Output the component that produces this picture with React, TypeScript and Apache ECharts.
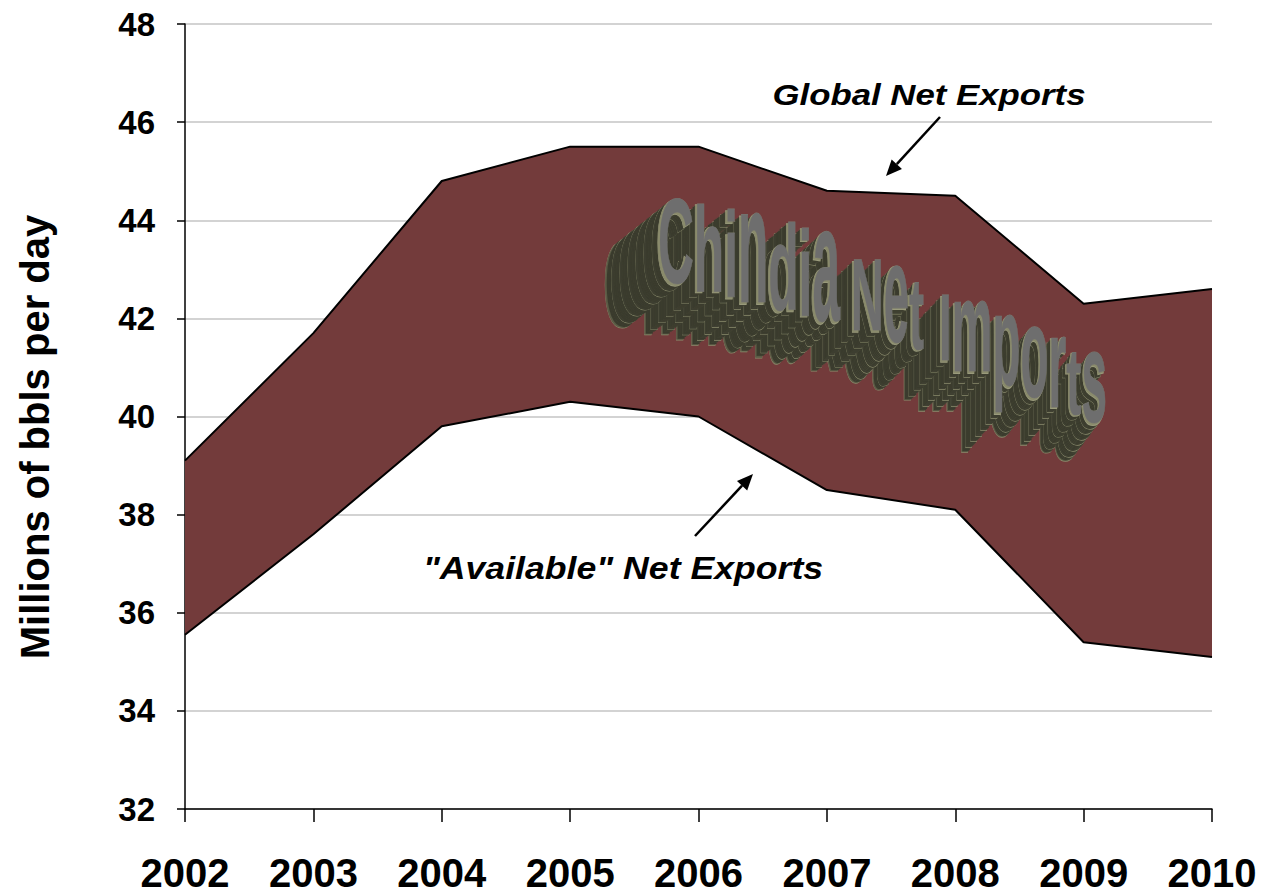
import React, { useEffect, useRef } from "react";
import * as echarts from "echarts";

// ---------- data ----------
const years = ["2002", "2003", "2004", "2005", "2006", "2007", "2008", "2009", "2010"];
const globalNetExports = [39.1, 41.7, 44.8, 45.5, 45.5, 44.6, 44.5, 42.3, 42.6];
const availableNetExports = [35.55, 37.6, 39.8, 40.3, 40.0, 38.5, 38.1, 35.4, 35.1];
const yMin = 32;
const yMax = 48;
const yStep = 2;
const yAxisTitle = "Millions of bbls per day";
const globalLabel = "Global Net Exports";
const availableLabel = "\"Available\" Net Exports";
const wordArtWords = ["Chindia", "Net", "Imports"];

// ---------- styling ----------
const BAND = "#733b3b";
const FONT = '"Liberation Sans", Arial, Helvetica, sans-serif';

// word-art layout (decoration placement)
const waLayout = [
  { x0: 658, x1: 840, size: 120 },
  { x0: 851, x1: 924, size: 102 },
  { x0: 939, x1: 1107, size: 94 },
];
const waBaseline = [
  [658, 279],
  [871, 332],
  [941, 359],
  [1107, 428],
];

function baseY(x: number): number {
  const b = waBaseline;
  if (x <= b[0][0]) {
    const s = (b[1][1] - b[0][1]) / (b[1][0] - b[0][0]);
    return b[0][1] + s * (x - b[0][0]);
  }
  for (let i = 0; i < b.length - 1; i++) {
    if (x <= b[i + 1][0]) {
      const s = (b[i + 1][1] - b[i][1]) / (b[i + 1][0] - b[i][0]);
      return b[i][1] + s * (x - b[i][0]);
    }
  }
  const n = b.length - 1;
  const s = (b[n][1] - b[n - 1][1]) / (b[n][0] - b[n - 1][0]);
  return b[n][1] + s * (x - b[n][0]);
}

function buildWordArt(): any[] {
  const canvas = document.createElement("canvas");
  const ctx = canvas.getContext("2d")!;
  type L = { ch: string; x: number; y: number; sx: number; sy: number; font: string; oy: number; dx: number; dy: number };
  const letters: L[] = [];
  wordArtWords.forEach((word, wi) => {
    const lay = waLayout[wi];
    const font = `bold ${lay.size}px ${FONT}`;
    ctx.font = font;
    const chars = [...word];
    const widths = chars.map((c) => ctx.measureText(c).width);
    const total = widths.reduce((a, b) => a + b, 0);
    const sx = (lay.x1 - lay.x0) / total;
    let cx = lay.x0;
    chars.forEach((ch, i) => {
      const w = widths[i] * sx;
      const mid = cx + w / 2;
      const by = baseY(mid);
      const short = /[acemnoprsuvwxz]/.test(ch);
      const t = (mid - 658) / (1107 - 658);
      letters.push({
        ch,
        x: cx,
        y: by - 0.35 * lay.size,
        sx,
        sy: short ? 1.38 : 1.0,
        font,
        oy: 0.35 * lay.size,
        dx: -56 + 28 * t,
        dy: 44 - 6 * t,
      });
      cx += w;
    });
  });
  const els: any[] = [];
  const mk = (l: L, ox: number, oy: number, style: any) => ({
    type: "text",
    x: l.x + ox,
    y: l.y + oy,
    scaleX: l.sx,
    scaleY: l.sy,
    originX: 0,
    originY: l.oy,
    silent: true,
    z: 50,
    style: {
      text: l.ch,
      font: l.font,
      align: "left",
      textAlign: "left",
      verticalAlign: "middle",
      textVerticalAlign: "middle",
      ...style,
    },
  });
  const N = 34;
  letters.forEach((l) => {
    els.push(mk(l, l.dx, l.dy, { fill: "#5a5b45", stroke: "#8a8b6c", lineWidth: 1.2 }));
  });
  for (let k = N - 1; k >= 1; k--) {
    const t = k / N;
    const edge = k % 5 === 0;
    letters.forEach((l) => {
      els.push(
        mk(l, l.dx * t, l.dy * t, edge
          ? { fill: "#3d3e30", stroke: "#8a8b6c", lineWidth: 1 }
          : { fill: "#3a3b2d", stroke: "#4a4b3a", lineWidth: 0.5 })
      );
    });
  }
  letters.forEach((l) => {
    els.push(mk(l, l.dx * 0.04, l.dy * 0.04, { fill: "#8a8b6c", stroke: "#9a9b7c", lineWidth: 1.5 }));
  });
  letters.forEach((l) => {
    els.push(mk(l, 0, 0, { fill: "#6e6e6e", stroke: "#7a7a70", lineWidth: 0.8 }));
  });
  return els;
}

function arrow(x1: number, y1: number, x2: number, y2: number): any[] {
  const ang = Math.atan2(y2 - y1, x2 - x1);
  const Lh = 16;
  const W = 7;
  const bx = x2 - Lh * Math.cos(ang);
  const by = y2 - Lh * Math.sin(ang);
  const px = -Math.sin(ang) * W;
  const py = Math.cos(ang) * W;
  return [
    { type: "line", z: 60, silent: true, shape: { x1, y1, x2: bx, y2: by }, style: { stroke: "#000", lineWidth: 2.5 } },
    {
      type: "polygon",
      z: 60,
      silent: true,
      shape: { points: [[x2, y2], [bx + px, by + py], [bx - px, by - py]] },
      style: { fill: "#000" },
    },
  ];
}

export default function App() {
  const ref = useRef<HTMLDivElement>(null);
  useEffect(() => {
    if (!ref.current) return;
    const chart = echarts.init(ref.current, undefined, { renderer: "svg" });
    const bandWidth = globalNetExports.map((v, i) => +(v - availableNetExports[i]).toFixed(3));
    const option: any = {
      animation: false,
      backgroundColor: "#ffffff",
      grid: { left: 185, right: 58, top: 24, bottom: 86, containLabel: false },
      xAxis: {
        type: "category",
        data: years,
        boundaryGap: false,
        axisLine: { show: true, lineStyle: { color: "#000", width: 1.5 } },
        axisTick: { show: true, length: 13, lineStyle: { color: "#000", width: 1.5 } },
        axisLabel: {
          color: "#000",
          fontFamily: FONT,
          fontWeight: "bold",
          fontSize: 40,
          margin: 44,
        },
        splitLine: { show: false },
      },
      yAxis: {
        type: "value",
        min: yMin,
        max: yMax,
        interval: yStep,
        axisLine: { show: true, lineStyle: { color: "#000", width: 1.5 } },
        axisTick: { show: true, length: 8, lineStyle: { color: "#000", width: 1.5 } },
        axisLabel: {
          color: "#000",
          fontFamily: FONT,
          fontWeight: "bold",
          fontSize: 33,
          margin: 30,
        },
        splitLine: { show: true, lineStyle: { color: "#c4c4c4", width: 1.5 } },
      },
      series: [
        {
          name: "Available Net Exports",
          type: "line",
          data: availableNetExports,
          stack: "band",
          symbol: "none",
          lineStyle: { color: "#000", width: 2 },
          z: 4,
        },
        {
          name: "Global Net Exports",
          type: "line",
          data: bandWidth,
          stack: "band",
          symbol: "none",
          lineStyle: { color: "#000", width: 2 },
          areaStyle: { color: BAND, opacity: 1 },
          z: 3,
        },
      ],
      graphic: [
        {
          type: "text",
          x: 35,
          y: 437,
          rotation: Math.PI / 2,
          silent: true,
          style: {
            text: yAxisTitle,
            font: `bold 40px ${FONT}`,
            fill: "#000",
            align: "center",
            textAlign: "center",
            verticalAlign: "middle",
            textVerticalAlign: "middle",
          },
        },
        {
          type: "text",
          x: 929,
          y: 95,
          scaleX: 1.2,
          silent: true,
          z: 60,
          style: {
            text: globalLabel,
            font: `italic bold 29px ${FONT}`,
            fill: "#000",
            align: "center",
            textAlign: "center",
            verticalAlign: "middle",
            textVerticalAlign: "middle",
          },
        },
        {
          type: "text",
          x: 623,
          y: 568,
          scaleX: 1.15,
          silent: true,
          z: 60,
          style: {
            text: availableLabel,
            font: `italic bold 31px ${FONT}`,
            fill: "#000",
            align: "center",
            textAlign: "center",
            verticalAlign: "middle",
            textVerticalAlign: "middle",
          },
        },
        ...arrow(940, 117, 886, 176),
        ...arrow(695, 536, 753, 474),
        ...buildWordArt(),
      ],
    };
    chart.setOption(option);
    return () => chart.dispose();
  }, []);
  return (
    <div
      ref={ref}
      style={{ position: "fixed", left: 0, top: 0, width: 1270, height: 895, background: "#fff" }}
    />
  );
}
